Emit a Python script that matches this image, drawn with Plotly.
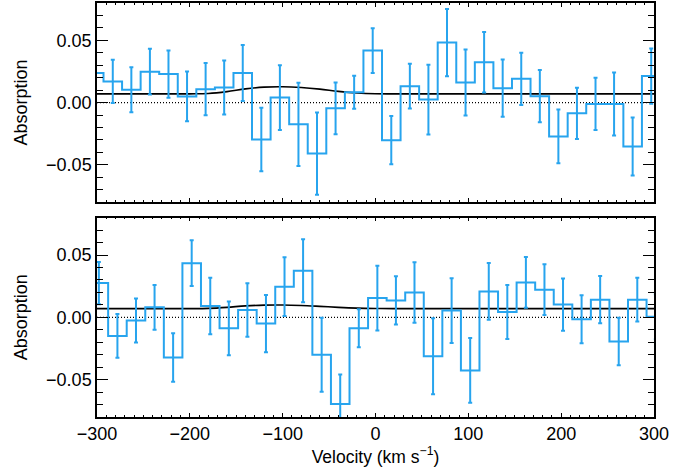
import plotly.graph_objects as go

# ---------------- data ----------------
top_v = [-303, -283, -263, -243, -223, -203, -183, -163, -143, -123, -103,
         -83, -63, -43, -23, -3, 17, 37, 57, 77, 97,
         117, 137, 157, 177, 197, 217, 237, 257, 277, 297]
top_abs = [0.0237, 0.0170, 0.0103, 0.0248, 0.0229, 0.0049, 0.0108, 0.0121, 0.0237, -0.0297, 0.0040,
           -0.0175, -0.0410, -0.0046, 0.0083, 0.0418, -0.0302, 0.0132, 0.0024, 0.0482, 0.0162,
           0.0323, 0.0116, 0.0191, 0.0051, -0.0272, -0.0086, -0.0011, -0.0011, -0.0353, 0.0213]
top_err = [0.017, 0.0174, 0.018, 0.0184, 0.019, 0.020, 0.021, 0.0216, 0.0225, 0.0255, 0.026,
           0.0335, 0.033, 0.0208, 0.0132, 0.018, 0.0194, 0.018, 0.028, 0.027, 0.0265,
           0.0243, 0.023, 0.021, 0.021, 0.0216, 0.0206, 0.021, 0.0253, 0.0234, 0.0222]

bot_v = [-298, -278, -258, -238, -218, -198, -178, -158, -138, -118,
         -98, -78, -58, -38, -18, 2, 22, 42, 62, 82,
         102, 122, 142, 162, 182, 202, 222, 242, 262, 282, 302]
bot_abs = [0.0275, -0.0149, -0.0026, 0.0080, -0.0322, 0.0435, 0.0091, -0.0088, 0.0059, -0.0050,
           0.0246, 0.0374, -0.0301, -0.0696, -0.0088, 0.0155, 0.0136, 0.0200, -0.0312, 0.0054,
           -0.0426, 0.0208, 0.0043, 0.0280, 0.0222, 0.0102, -0.0016, 0.0142, -0.0194, 0.0142, 0.0005]
bot_err = [0.017, 0.0176, 0.0177, 0.018, 0.0195, 0.0184, 0.0227, 0.0216, 0.0215, 0.023,
           0.0236, 0.0253, 0.0297, 0.0237, 0.0153, 0.026, 0.0193, 0.0243, 0.0305, 0.026,
           0.026, 0.0228, 0.0216, 0.0204, 0.0204, 0.021, 0.0193, 0.019, 0.019, 0.0176, 0.018]

model_v = [-300, -200, -180, -160, -140, -120, -100, -80, -60, -40, -20, 0, 20, 300]
top_model = [0.0070, 0.0070, 0.0073, 0.0088, 0.0110, 0.0124, 0.0127, 0.0121, 0.0108, 0.0090,
             0.0077, 0.0071, 0.0070, 0.0070]
bot_model = [0.0070, 0.0070, 0.0072, 0.0080, 0.0092, 0.0098, 0.0099, 0.0095, 0.0088, 0.0080,
             0.0074, 0.0071, 0.0070, 0.0070]

BIN_WIDTH = 20
BLUE = '#27a4ee'
FAMILY = 'Liberation Sans, Arial, sans-serif'

fig = go.Figure()


def add_panel(v, a, e, model, xa, ya):
    half = BIN_WIDTH / 2
    xs = [c - half for c in v] + [v[-1] + half]
    ys = list(a) + [a[-1]]
    # dotted zero line
    fig.add_trace(go.Scatter(x=[-300, 300], y=[0, 0], mode='lines',
                             line=dict(color='black', width=1.2, dash='1px,2px'),
                             xaxis=xa, yaxis=ya, showlegend=False, hoverinfo='skip'))
    # model curve
    fig.add_trace(go.Scatter(x=model_v, y=model, mode='lines', line_shape='spline',
                             line=dict(color='black', width=1.6),
                             xaxis=xa, yaxis=ya, showlegend=False))
    # step histogram
    fig.add_trace(go.Scatter(x=xs, y=ys, mode='lines', line_shape='hv',
                             line=dict(color=BLUE, width=2),
                             xaxis=xa, yaxis=ya, showlegend=False))
    # error bars
    fig.add_trace(go.Scatter(x=v, y=a, mode='markers', marker=dict(size=0.1, color=BLUE, opacity=0),
                             error_y=dict(type='data', array=e, visible=True, color=BLUE,
                                          thickness=2, width=2),
                             xaxis=xa, yaxis=ya, showlegend=False))


add_panel(top_v, top_abs, top_err, top_model, 'x', 'y')
add_panel(bot_v, bot_abs, bot_err, bot_model, 'x2', 'y2')

xcommon = dict(range=[-300, 300], tick0=-300, dtick=100, ticks='inside', ticklen=4, tickwidth=1.3,
               tickcolor='black', showline=True, linecolor='black', linewidth=1.5, mirror='ticks',
               showgrid=False, zeroline=False,
               tickfont=dict(family=FAMILY, size=18, color='black'),
               minor=dict(dtick=10, ticks='inside', ticklen=2, tickwidth=1, tickcolor='black',
                          showgrid=False))
ycommon = dict(range=[-0.08, 0.08], tick0=0, dtick=0.05, tickformat='.2f', ticks='inside', ticklen=11,
               tickwidth=1.3, tickcolor='black', showline=True, linecolor='black', linewidth=1.5,
               mirror='ticks', showgrid=False, zeroline=False,
               tickfont=dict(family=FAMILY, size=18, color='black'),
               title=dict(text='Absorption', standoff=14,
                          font=dict(family=FAMILY, size=18, color='black')),
               minor=dict(dtick=0.01, ticks='inside', ticklen=6, tickwidth=1, tickcolor='black',
                          showgrid=False))

fig.update_layout(
    width=696, height=470,
    margin=dict(l=97, r=42, t=1, b=53),
    paper_bgcolor='white', plot_bgcolor='white',
    font=dict(family=FAMILY, size=18, color='black'),
    xaxis=dict(domain=[0, 1], anchor='y', showticklabels=False, **xcommon),
    yaxis=dict(domain=[0.519, 1.0], anchor='x', **ycommon),
    xaxis2=dict(domain=[0, 1], anchor='y2', showticklabels=True,
                title=dict(text='Velocity (km s<sup>\u22121</sup>)', standoff=0,
                           font=dict(family=FAMILY, size=17.5, color='black')),
                **xcommon),
    yaxis2=dict(domain=[0, 0.4815], anchor='x2', **ycommon),
)

fig.write_html('out.html')
